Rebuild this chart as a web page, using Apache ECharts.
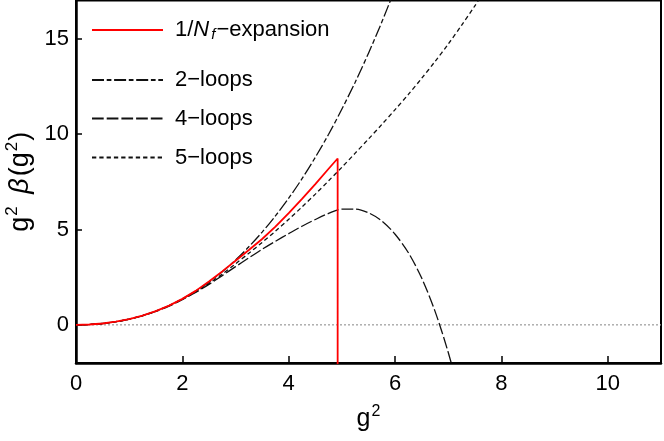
<!DOCTYPE html>
<html>
<head>
<meta charset="utf-8">
<script src="https://cdn.jsdelivr.net/npm/echarts@6/dist/echarts.min.js"></script>
<style>html,body{margin:0;padding:0;background:#fff}#c{width:664px;height:441px}</style>
</head>
<body>
<div id="c"></div>
<script>
// ---- data ----
var xTicks = [0, 2, 4, 6, 8, 10];
var yTicks = [0, 5, 10, 15];

var nfX = [0,0.25,0.5,0.75,1,1.25,1.5,1.75,2,2.25,2.5,2.75,3,3.25,3.5,3.75,4,4.25,4.5,4.75,4.92,4.92];
var nfY = [0,0.017,0.07,0.163,0.30,0.484,0.72,1.01,1.36,1.78,2.27,2.80,3.36,3.92,4.50,5.15,5.85,6.60,7.38,8.18,8.72,-3];

var loop2X = [0,0.25,0.5,0.75,1,1.25,1.5,1.75,2,2.25,2.5,2.75,3,3.25,3.5,3.75,4,4.25,4.5,4.75,5,5.25,5.5,5.75,6];
var loop2Y = [0,0.017,0.071,0.165,0.303,0.488,0.724,1.014,1.362,1.77,2.24,2.78,3.40,4.09,4.86,5.71,6.64,7.66,8.78,9.99,11.31,12.72,14.24,15.87,17.62];

var loop4X = [0,0.25,0.5,0.75,1,1.25,1.5,1.75,2,2.25,2.5,2.75,3,3.25,3.5,3.75,4,4.25,4.5,4.75,5,5.25,5.5,5.75,6,6.25,6.5,6.75,7,7.25];
var loop4Y = [0,0.017,0.071,0.164,0.298,0.476,0.70,0.98,1.32,1.70,2.12,2.58,3.05,3.51,3.96,4.38,4.78,5.17,5.52,5.84,6.07,6.07,5.87,5.45,4.75,3.78,2.45,0.72,-1.45,-4.0];

var loop5X = [0,0.25,0.5,0.75,1,1.25,1.5,1.75,2,2.25,2.5,2.75,3,3.25,3.5,3.75,4,4.25,4.5,4.75,5,5.25,5.5,5.75,6,6.25,6.5,6.75,7,7.25,7.5,7.75];
var loop5Y = [0,0.017,0.071,0.164,0.30,0.482,0.715,1.00,1.34,1.73,2.17,2.66,3.20,3.75,4.32,4.91,5.53,6.18,6.85,7.55,8.26,9.0,9.74,10.5,11.28,12.08,12.92,13.8,14.72,15.7,16.72,17.8];

var zeroX = [0, 11];
var zeroY = [0, 0];

var seriesNames = ['nf', 'l2', 'l4', 'l5'];
var legendLabels = {
  nf: '{t|1/}{i|N}{s|f}{t|\u2212expansion}',
  l2: '{t|2\u2212loops}',
  l4: '{t|4\u2212loops}',
  l5: '{t|5\u2212loops}'
};

function pairs(xs, ys) { return xs.map(function (x, i) { return [x, ys[i]]; }); }

var FONT = 'Liberation Sans, Arial, sans-serif';
var rich = {
  t: {fontSize: 22, fontFamily: FONT, color: '#000'},
  i: {fontSize: 22, fontFamily: FONT, fontStyle: 'italic', color: '#000'},
  s: {fontSize: 15, fontFamily: FONT, fontStyle: 'italic', color: '#000', padding: [9, 1, 0, 2]},
  n: {fontSize: 25, fontFamily: FONT, color: '#000'},
  p: {fontSize: 16, fontFamily: FONT, color: '#000', padding: [0, 0, 14, 1]},
  yn: {fontSize: 27, fontFamily: FONT, color: '#000'},
  yb: {fontSize: 27, fontFamily: FONT, fontStyle: 'italic', color: '#000', padding: [0, 2, 0, 0]},
  yp: {fontSize: 17, fontFamily: FONT, color: '#000', padding: [0, 1, 15, 1]},
  ysp: {fontSize: 27, fontFamily: FONT, color: '#000', padding: [0, 4, 0, 0]}
};

var rows = [30.5, 79, 117.5, 156.5];
var legends = seriesNames.map(function (nm, k) {
  return {
    data: [nm], left: 91, top: rows[k] - (k === 0 ? 11.5 : 10), itemWidth: 71, itemHeight: 2,
    selectedMode: false, orient: 'horizontal', padding: 0,
    itemStyle: {opacity: 0},
    formatter: function (name) { return legendLabels[name]; },
    textStyle: {fontSize: 22, fontFamily: FONT, color: '#000', padding: [0, 0, 0, 7], rich: rich}
  };
});

var blk = '#111';
var chart = echarts.init(document.getElementById('c'), null, {renderer: 'canvas'});
chart.setOption({
  animation: false,
  backgroundColor: '#fff',
  grid: {left: 76, right: 3, top: 0.5, bottom: 78, show: true, borderColor: '#000', borderWidth: 2,
         backgroundColor: 'transparent', containLabel: false, outerBoundsMode: 'none'},
  legend: legends,
  xAxis: {
    type: 'value', min: 0, max: 11,
    name: '{n|g}{p|2}', nameLocation: 'middle', nameGap: 41,
    nameTextStyle: {rich: rich},
    axisLine: {show: true, onZero: false, lineStyle: {color: '#000', width: 2.5}},
    axisTick: {show: true, inside: true, length: 7, customValues: xTicks, lineStyle: {color: '#000', width: 1.5}},
    axisLabel: {customValues: xTicks, fontSize: 22, fontFamily: FONT, color: '#000', margin: 10},
    splitLine: {show: false}
  },
  yAxis: {
    type: 'value', min: -2, max: 17,
    name: '{yn|g}{yp|2}{ysp| }{yb|\u03b2}{yn|(g}{yp|2}{yn|)}', nameLocation: 'middle', nameGap: 36, nameRotate: 90,
    nameTextStyle: {rich: rich},
    axisLine: {show: true, onZero: false, lineStyle: {color: '#000', width: 2.5}},
    axisTick: {show: true, inside: true, length: 6, customValues: yTicks, lineStyle: {color: '#000', width: 1.5}},
    axisLabel: {customValues: yTicks, fontSize: 22, fontFamily: FONT, color: '#000', margin: 7},
    splitLine: {show: false}
  },
  series: [
    {name: 'zero', type: 'line', data: pairs(zeroX, zeroY), symbol: 'none', silent: true,
     lineStyle: {color: '#999', width: 1.2, type: [2, 2]}, z: 1},
    {name: 'l2', type: 'line', data: pairs(loop2X, loop2Y), symbol: 'none', smooth: 0.3, clip: true,
     lineStyle: {color: blk, width: 1.3, type: [12, 2.7, 4.7, 2.7]}, itemStyle: {color: blk}, z: 2},
    {name: 'l4', type: 'line', data: pairs(loop4X, loop4Y), symbol: 'none', smooth: 0.3, clip: true,
     lineStyle: {color: blk, width: 1.3, type: [11.7, 3]}, itemStyle: {color: blk}, z: 2},
    {name: 'l5', type: 'line', data: pairs(loop5X, loop5Y), symbol: 'none', smooth: 0.3, clip: true,
     lineStyle: {color: blk, width: 1.3, type: [4.3, 3]}, itemStyle: {color: blk}, z: 2},
    {name: 'nf', type: 'line', data: pairs(nfX, nfY), symbol: 'none', smooth: false, clip: true,
     lineStyle: {color: '#ff0000', width: 1.8}, itemStyle: {color: '#ff0000'}, z: 3}
  ]
});
</script>
</body>
</html>
